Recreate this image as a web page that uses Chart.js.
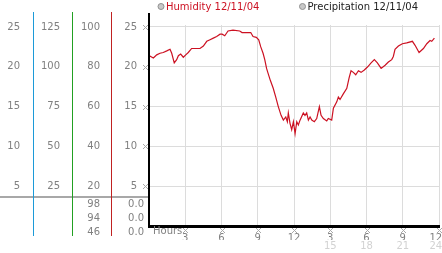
<!DOCTYPE html>
<html>
<head>
<meta charset="utf-8">
<script src="https://cdn.jsdelivr.net/npm/chart.js@4.4.1/dist/chart.umd.min.js"></script>
<style>
  html, body { margin: 0; padding: 0; background: #fff; }
  #wrap { width: 442px; height: 253px; }
</style>
</head>
<body>
<div id="wrap"><canvas id="weatherChart" width="442" height="253"></canvas></div>
<script>
// readings for the day, x = hours since midnight
let hours = [0, 0.36, 0.64, 0.91, 1.18, 1.47, 1.74, 1.88, 2.09, 2.29, 2.43, 2.62, 2.84, 3.04, 3.25, 3.53,
    4.22, 4.5, 4.78, 5.05, 5.32, 5.6, 5.88, 6.05, 6.27, 6.54, 6.95, 7.51, 7.7, 8.42, 8.61, 8.88, 9.08,
    9.25, 9.44, 9.58, 9.73, 9.85, 10.04, 10.28, 10.49, 10.7, 10.93, 11.12, 11.32, 11.45, 11.53, 11.67,
    11.81, 11.95, 12.09, 12.23, 12.36, 12.5, 12.77, 12.91, 13.05, 13.19, 13.33, 13.47, 13.68, 13.88,
    14.1, 14.24, 14.43, 14.71, 14.84, 15.12, 15.26, 15.54, 15.67, 15.81, 16.08, 16.37, 16.56, 16.72,
    16.91, 17.11, 17.33, 17.55, 17.82, 18.1, 18.38, 18.65, 18.9, 19.21, 19.54, 19.81, 20.09, 20.22,
    20.36, 20.64, 20.97, 21.33, 21.8, 22.02, 22.35, 22.71, 22.99, 23.26, 23.4, 23.62];
let humidity = [21.4, 21.1, 21.5, 21.7, 21.8, 22.0, 22.2, 21.7, 20.5, 20.9, 21.4, 21.6, 21.2, 21.5, 21.8, 22.3,
    22.3, 22.6, 23.2, 23.4, 23.6, 23.8, 24.1, 24.1, 23.9, 24.5, 24.6, 24.5, 24.3, 24.3, 23.8, 23.7, 23.4,
    22.5, 21.7, 20.9, 19.8, 19.2, 18.3, 17.3, 16.2, 15.0, 13.9, 13.3, 13.7, 13.1, 14.2, 12.9,
    12.1, 13.1, 11.6, 13.1, 12.7, 13.3, 14.2, 13.9, 14.2, 13.3, 13.7, 13.3, 13.1, 13.5,
    15.0, 13.9, 13.5, 13.2, 13.5, 13.3, 14.8, 15.6, 16.2, 15.9, 16.6, 17.3, 18.6, 19.5,
    19.3, 19.0, 19.5, 19.3, 19.6, 20.0, 20.5, 20.9, 20.5, 19.8, 20.2, 20.6, 20.9, 21.3,
    22.2, 22.6, 22.9, 23.0, 23.2, 22.7, 21.8, 22.3, 22.9, 23.3, 23.2, 23.6];
let precipitation = [];

let seriesNames = ['Humidity 12/11/04', 'Precipitation 12/11/04'];

// tick labels (clock hours, then the 24h row under the afternoon)
let hourLabels = ['', '3', '6', '9', '12', '3', '6', '9', '12\u2007'];
let hourLabels24 = ['', '', '', '', '', '15', '18', '21', '24\u2007'];

// current readings shown under the left scales
let currentMid = ['98', '94', '46'];
let currentRight = ['0.0', '0.0', '0.0'];

const FONT = { family: 'DejaVu Sans', size: 10 };
const GRAY = '#808080';
const axisColors = { yA: '#1c9ad8', yB: '#22a022', yC: '#c02222' };

function hideZero(v) {
    return v === 0 ? '' : v;
}

function sideAxis(weight, max, step, width, pad) {
    return {
        type: 'linear',
        position: 'left',
        weight: weight,
        min: 0,
        max: max,
        ticks: { stepSize: step, includeBounds: false, padding: pad, color: GRAY, font: FONT, callback: hideZero },
        grid: { display: false, drawTicks: false },
        border: { display: false },
        afterFit: s => { s.width = width; s.paddingTop = 0; s.paddingBottom = 0; }
    };
}

function drawMark(ctx, cx, cy) {
    ctx.fillStyle = '#a8a8a8';
    [[-2, -2], [2, -2], [-1, -1], [1, -1], [0, 0], [-1, 1], [1, 1], [-2, 2], [2, 2]].forEach(p => {
        ctx.fillRect(cx + p[0], cy + p[1], 1, 1);
    });
}

// extra drawing: axis rules, tick marks, "Hours", readings, legend
const decorations = {
    id: 'decorations',
    afterDraw(chart) {
        const ctx = chart.ctx;
        const area = chart.chartArea;
        const s = chart.scales;
        ctx.save();

        ctx.strokeStyle = '#a8a8a8';
        ctx.lineWidth = 2;
        ctx.beginPath();
        ctx.moveTo(0, 197);
        ctx.lineTo(area.left, 197);
        ctx.stroke();

        Object.keys(axisColors).forEach(id => {
            const x = Math.round(s[id].right) + 0.5;
            ctx.strokeStyle = axisColors[id];
            ctx.lineWidth = 1;
            ctx.beginPath();
            ctx.moveTo(x, 12);
            ctx.lineTo(x, 236);
            ctx.stroke();
        });

        ctx.strokeStyle = '#000';
        ctx.lineWidth = 2;
        ctx.beginPath();
        ctx.moveTo(area.left, 13);
        ctx.lineTo(area.left, area.bottom + 1);
        ctx.stroke();

        s.y.ticks.forEach(t => {
            if (t.value > 0) drawMark(ctx, area.left - 4, Math.round(s.y.getPixelForValue(t.value)));
        });
        s.x.ticks.forEach(t => {
            if (t.value > 0) drawMark(ctx, Math.round(s.x.getPixelForValue(t.value)), 230);
        });

        ctx.font = '10px "DejaVu Sans"';
        ctx.fillStyle = GRAY;
        ctx.textBaseline = 'middle';
        ctx.textAlign = 'left';
        ctx.fillText('Hours', area.left + 4, 231);

        ctx.textAlign = 'right';
        const rows = [204.5, 218.5, 232.5];
        rows.forEach((y, i) => {
            ctx.fillText(currentMid[i], s.yC.right - 11, y);
            ctx.fillText(currentRight[i], area.left - 5, y);
        });

        // legend
        const legendX = [161, 302.5];
        const legendColors = ['#cc1122', '#222'];
        chart.data.datasets.forEach((ds, i) => {
            ctx.beginPath();
            ctx.arc(legendX[i], 6.5, 3, 0, Math.PI * 2);
            ctx.fillStyle = '#c8c8c8';
            ctx.fill();
            ctx.strokeStyle = '#909090';
            ctx.lineWidth = 1;
            ctx.stroke();
            ctx.textAlign = 'left';
            ctx.fillStyle = legendColors[i];
            ctx.fillText(ds.label, legendX[i] + 5, 7);
        });

        ctx.restore();
    }
};

var ctx = document.getElementById('weatherChart').getContext('2d');
var weatherChart = new Chart(ctx, {
    type: 'line',
    data: {
        datasets: [
            {
                label: seriesNames[0],
                data: hours.map((h, i) => ({ x: h, y: humidity[i] })),
                borderColor: '#cc1122',
                borderWidth: 1.2,
                pointRadius: 0,
                tension: 0,
                xAxisID: 'x',
                yAxisID: 'y'
            },
            {
                label: seriesNames[1],
                data: precipitation,
                borderColor: '#333',
                borderWidth: 1,
                pointRadius: 0,
                xAxisID: 'x',
                yAxisID: 'y'
            }
        ]
    },
    options: {
        responsive: false,
        animation: false,
        devicePixelRatio: 1,
        layout: { padding: { top: 25, right: 3, left: 0, bottom: 0 } },
        plugins: {
            legend: { display: false },
            tooltip: { enabled: false }
        },
        scales: {
            x: {
                type: 'linear',
                position: 'bottom',
                weight: 0,
                min: 0,
                max: 24,
                ticks: {
                    stepSize: 3, autoSkip: false, maxRotation: 0, padding: 6,
                    color: GRAY, font: FONT,
                    callback: (v, i) => hourLabels[i]
                },
                grid: { color: c => c.tick && c.tick.value === 0 ? 'rgba(0,0,0,0)' : '#dcdcdc', drawTicks: false },
                border: { color: '#000', width: 3 },
                afterFit: s => { s.height = 14; s.paddingLeft = 0; s.paddingRight = 0; }
            },
            x2: {
                type: 'linear',
                position: 'bottom',
                weight: 1,
                min: 0,
                max: 24,
                ticks: {
                    stepSize: 3, autoSkip: false, maxRotation: 0, padding: 0,
                    color: '#d2d2d2', font: FONT,
                    callback: (v, i) => hourLabels24[i]
                },
                grid: { display: false, drawTicks: false },
                border: { display: false },
                afterFit: s => { s.height = 13; s.paddingLeft = 0; s.paddingRight = 0; }
            },
            yA: sideAxis(4, 25.25, 5, 33, 13),
            yB: sideAxis(3, 126.25, 25, 39, 12),
            yC: sideAxis(2, 101, 20, 39, 11),
            y: {
                type: 'linear',
                position: 'left',
                weight: 1,
                min: 0,
                max: 25.25,
                ticks: { stepSize: 5, includeBounds: false, padding: 12, color: GRAY, font: FONT, callback: hideZero },
                grid: { color: c => c.tick && c.tick.value === 0 ? 'rgba(0,0,0,0)' : '#dcdcdc', drawTicks: false },
                border: { display: false },
                afterFit: s => { s.width = 38; s.paddingTop = 0; s.paddingBottom = 0; }
            }
        }
    },
    plugins: [decorations]
});
</script>
</body>
</html>
